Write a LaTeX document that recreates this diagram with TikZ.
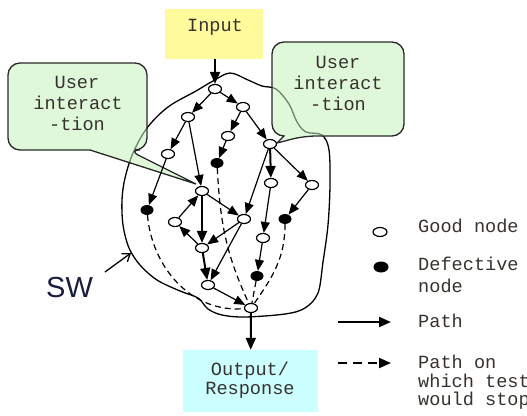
\documentclass[tikz,border=0pt]{standalone}
\usepackage{fontspec}
\setmainfont{Liberation Serif}
\newfontfamily\codefont{Liberation Mono}
\newfontfamily\labelfont{Liberation Sans}
\usetikzlibrary{shapes.geometric,arrows.meta}
\definecolor{inputfill}{RGB}{255,250,155}
\definecolor{outputfill}{RGB}{204,255,255}
\definecolor{calloutfill}{RGB}{197,242,188}
\definecolor{inkcol}{RGB}{40,40,40}
\definecolor{textcol}{RGB}{55,50,45}
\definecolor{swcol}{RGB}{25,30,60}

\begin{document}
\begin{tikzpicture}[x=1pt,y=-1pt,
  good/.style={ellipse, draw=black, fill=white, line width=1.2pt,
    minimum width=13pt, minimum height=9pt, inner sep=0pt},
  bad/.style={ellipse, fill=black, minimum width=13pt, minimum height=10pt, inner sep=0pt},
  flow/.style={line width=1.2pt, -{Triangle[length=11pt,width=9pt]}},
  heavy/.style={line width=2pt, -{Triangle[length=12pt,width=10pt]}},
  halted/.style={line width=1.2pt, dash pattern=on 6pt off 4pt},
  code/.style={font=\codefont\fontsize{18.6}{21}\selectfont, text=textcol, inner sep=0pt},
  callout/.style={draw=inkcol, line width=1.3pt, fill=calloutfill, fill opacity=0.55, draw opacity=1},
  box/.style={inner sep=0pt, draw=none},
]
\useasboundingbox (0,0) rectangle (527,415);
\clip (0,0) rectangle (527,415);

% software boundary
\draw[line width=1.3pt, black] plot[smooth cycle, tension=0.55] coordinates {
  (196,91) (213,81) (230,73) (248,80) (262,86) (276,89) (289,104) (297,122)
  (306,132) (322,135) (329,150) (330,185) (328,225) (323,262) (318,293)
  (305,308) (285,314) (245,317) (222,315) (208,309) (198,298) (180,291)
  (157,280) (140,265) (129,248) (123,225) (122,200) (125,178) (133,153)
  (147,128) (168,107)};

% user interaction callouts
\draw[callout] (8,100) [rounded corners=12pt] -- (8,63) -- (147,63) -- (147,150)
  -- (128,150) [sharp corners] -- (196,184) -- (90,150) [rounded corners=12pt]
  -- (8,150) -- cycle;
\draw[callout] (272,90) [rounded corners=12pt] -- (272,42) -- (404,42) -- (404,136)
  -- (304,136) [sharp corners] -- (277,143) -- (284,136) [rounded corners=12pt]
  -- (272,136) -- cycle;
\node[code, anchor=base] (cla) at (77,88) {User};
\node[code, anchor=base] (clb) at (78,109) {interact};
\node[code, anchor=base] (clc) at (77,130) {-tion};
\node[code, anchor=base] (cra) at (338,68) {User};
\node[code, anchor=base] (crb) at (338,89) {interact};
\node[code, anchor=base] (crc) at (338,110) {-tion};

% input and output boxes
\node[box, fill=inputfill, minimum width=98pt, minimum height=50pt] (input) at (214,34) {};
\node[code, anchor=base] (inputtext) at (215,31) {Input};
\node[box, fill=outputfill, minimum width=135pt, minimum height=62pt] (output) at (250.5,381) {};
\node[code, anchor=base] (outa) at (250,375) {Output/};
\node[code, anchor=base] (outb) at (250,394) {Response};

% graph nodes
\node[good] (n1) at (215,89) {};
\node[good] (n2) at (243,107) {};
\node[good] (n3) at (188,117) {};
\node[good] (n4) at (228,136) {};
\node[good] (n5) at (270,144) {};
\node[good] (n6) at (168,154) {};
\node[bad]  (d1) at (217,163) {};
\node[good] (n7) at (202,191) {};
\node[good] (n8) at (271,183) {};
\node[good] (n9) at (312,185) {};
\node[bad]  (d2) at (147,210) {};
\node[good] (n10) at (175,222) {};
\node[good] (n11) at (244,219) {};
\node[bad]  (d3) at (285,219) {};
\node[good] (n12) at (202,248) {};
\node[good] (n13) at (263,238) {};
\node[bad]  (d4) at (257,276) {};
\node[good] (n14) at (208,285) {};
\node[good] (n15) at (251,308) {};

% paths
\draw[heavy] (input.south -| n1) -- (n1);
\draw[flow] (n1) -- (n3);
\draw[flow] (n1) -- (n2);
\draw[flow] (n2) -- (n4);
\draw[flow] (n2) -- (n5);
\draw[flow] (n3) -- (n6);
\draw[flow] (n3) -- (n7);
\draw[flow] (n4) -- (d1);
\draw[heavy] (n5) -- (n8);
\draw[flow] (n5) -- (n9);
\draw[flow] (n5) -- (n11);
\draw[flow] (n6) -- (d2);
\draw[flow] (n9) -- (d3);
\draw[flow] (n8) -- (n13);
\draw[flow] (n13) -- (d4);
\draw[flow] (n7) -- (n11);
\draw[heavy] (n7) -- (n12);
\draw[flow] (n11) -- (n12);
\draw[flow] (n12) -- (n10);
\draw[flow] (n10) -- (n7);
\draw[heavy] (n12) -- (n14);
\draw[flow] (n11) -- (n14);
\draw[flow] (n14) -- (n15);
\draw[heavy] (n15) -- (output);

% paths on which the test would stop
\draw[halted] (d2) to[out=-85, in=185] (n15);
\draw[halted] (d1) to[out=-87, in=115] (n15);
\draw[halted] (d3) to[out=-90, in=55] (n15);
\draw[halted] (d4) -- (n15);

% SW label
\node[font=\labelfont\fontsize{29}{29}\selectfont, text=swcol, anchor=base west, inner sep=0pt]
  (sw) at (46,297) {SW};
\coordinate (swtail) at (105,272);
\coordinate (swhead) at (131,253);
\draw[line width=1.3pt, -{Straight Barb[length=7pt,width=10pt]}] (swtail) -- (swhead);

% legend
\node[good, minimum width=14pt] (lgood) at (380,232) {};
\node[bad, minimum width=15pt, minimum height=11pt] (lbad) at (381,267) {};
\coordinate (lpa) at (338,322);
\coordinate (lpb) at (391,322);
\draw[line width=2pt, -{Triangle[length=12pt,width=10pt]}] (lpa) -- (lpb);
\coordinate (lqa) at (338,363);
\coordinate (lqb) at (391,363);
\draw[line width=2pt, dash pattern=on 9pt off 6pt, -{Triangle[length=12pt,width=10pt]}] (lqa) -- (lqb);
\node[code, anchor=base west] (ta) at (418,232) {Good node};
\node[code, anchor=base west] (tb) at (418,270) {Defective};
\node[code, anchor=base west] (tc) at (418,292) {node};
\node[code, anchor=base west] (td) at (418,327) {Path};
\node[code, anchor=base west] (te) at (418,368) {Path on};
\node[code, anchor=base west] (tf) at (418,387) {which test};
\node[code, anchor=base west] (tg) at (418,405) {would stop};
\end{tikzpicture}
\end{document}
